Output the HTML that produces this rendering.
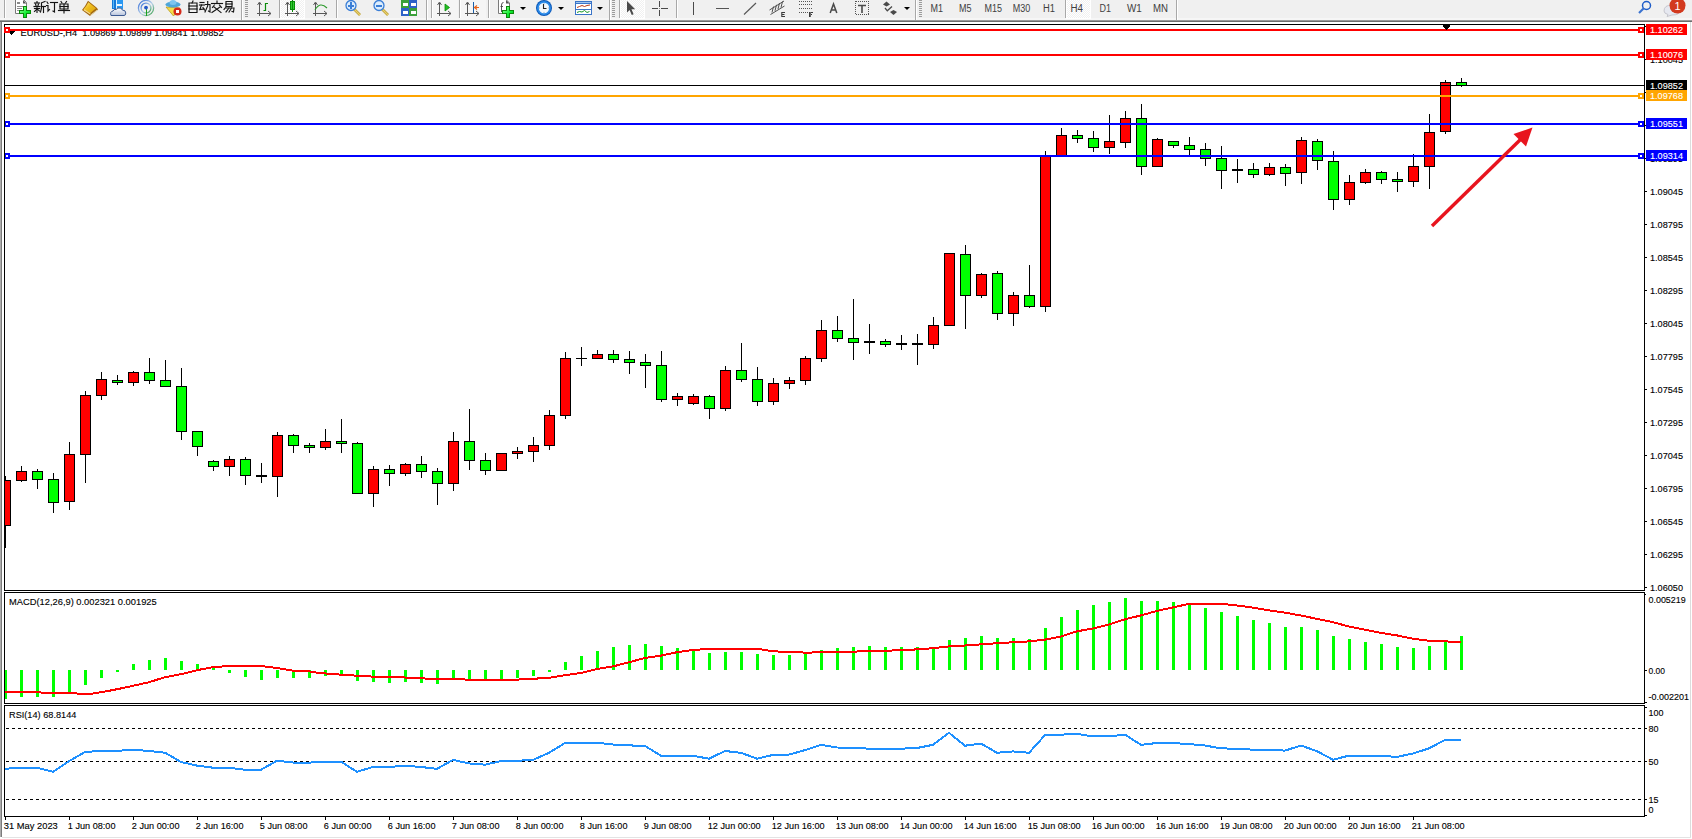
<!DOCTYPE html>
<html><head><meta charset="utf-8"><title>MT4 EURUSD H4</title>
<style>
html,body{margin:0;padding:0;background:#fff;overflow:hidden;}
svg{display:block;font-family:"Liberation Sans", sans-serif;}
</style></head>
<body>
<svg width="1692" height="839" viewBox="0 0 1692 839">
<rect x="0" y="0" width="1692" height="839" fill="#ffffff"/>
<rect x="0" y="0" width="1692" height="20" fill="#f0f0f0"/>
<rect x="0" y="18" width="1692" height="2" fill="#f6f6f6"/>
<rect x="0" y="20" width="1692" height="1" fill="#9a9a9a"/>
<rect x="0" y="21" width="1692" height="1" fill="#6c6c6c"/>
<rect x="4" y="0" width="1" height="18" fill="#a8a8a8"/>
<rect x="5" y="0" width="1" height="18" fill="#ffffff"/>
<rect x="241" y="0" width="1" height="20" fill="#a8a8a8"/>
<rect x="242" y="0" width="1" height="20" fill="#ffffff"/>
<rect x="245" y="0" width="3" height="1" fill="#9c9c9c"/>
<rect x="245" y="2" width="3" height="1" fill="#9c9c9c"/>
<rect x="245" y="4" width="3" height="1" fill="#9c9c9c"/>
<rect x="245" y="6" width="3" height="1" fill="#9c9c9c"/>
<rect x="245" y="8" width="3" height="1" fill="#9c9c9c"/>
<rect x="245" y="10" width="3" height="1" fill="#9c9c9c"/>
<rect x="245" y="12" width="3" height="1" fill="#9c9c9c"/>
<rect x="245" y="14" width="3" height="1" fill="#9c9c9c"/>
<rect x="245" y="16" width="3" height="1" fill="#9c9c9c"/>
<rect x="279" y="0" width="1" height="18" fill="#a8a8a8"/>
<rect x="280" y="0" width="1" height="18" fill="#ffffff"/>
<rect x="336" y="0" width="1" height="18" fill="#a8a8a8"/>
<rect x="337" y="0" width="1" height="18" fill="#ffffff"/>
<rect x="426" y="0" width="1" height="20" fill="#a8a8a8"/>
<rect x="427" y="0" width="1" height="20" fill="#ffffff"/>
<rect x="431" y="0" width="1" height="18" fill="#a8a8a8"/>
<rect x="432" y="0" width="1" height="18" fill="#ffffff"/>
<rect x="459" y="0" width="1" height="18" fill="#a8a8a8"/>
<rect x="460" y="0" width="1" height="18" fill="#ffffff"/>
<rect x="488" y="0" width="1" height="18" fill="#a8a8a8"/>
<rect x="489" y="0" width="1" height="18" fill="#ffffff"/>
<rect x="609" y="0" width="1" height="20" fill="#a8a8a8"/>
<rect x="610" y="0" width="1" height="20" fill="#ffffff"/>
<rect x="612" y="0" width="3" height="1" fill="#9c9c9c"/>
<rect x="612" y="2" width="3" height="1" fill="#9c9c9c"/>
<rect x="612" y="4" width="3" height="1" fill="#9c9c9c"/>
<rect x="612" y="6" width="3" height="1" fill="#9c9c9c"/>
<rect x="612" y="8" width="3" height="1" fill="#9c9c9c"/>
<rect x="612" y="10" width="3" height="1" fill="#9c9c9c"/>
<rect x="612" y="12" width="3" height="1" fill="#9c9c9c"/>
<rect x="612" y="14" width="3" height="1" fill="#9c9c9c"/>
<rect x="612" y="16" width="3" height="1" fill="#9c9c9c"/>
<rect x="619" y="0" width="1" height="18" fill="#a8a8a8"/>
<rect x="620" y="0" width="1" height="18" fill="#ffffff"/>
<rect x="676" y="0" width="1" height="18" fill="#a8a8a8"/>
<rect x="677" y="0" width="1" height="18" fill="#ffffff"/>
<rect x="915" y="0" width="1" height="20" fill="#a8a8a8"/>
<rect x="916" y="0" width="1" height="20" fill="#ffffff"/>
<rect x="919" y="0" width="3" height="1" fill="#9c9c9c"/>
<rect x="919" y="2" width="3" height="1" fill="#9c9c9c"/>
<rect x="919" y="4" width="3" height="1" fill="#9c9c9c"/>
<rect x="919" y="6" width="3" height="1" fill="#9c9c9c"/>
<rect x="919" y="8" width="3" height="1" fill="#9c9c9c"/>
<rect x="919" y="10" width="3" height="1" fill="#9c9c9c"/>
<rect x="919" y="12" width="3" height="1" fill="#9c9c9c"/>
<rect x="919" y="14" width="3" height="1" fill="#9c9c9c"/>
<rect x="919" y="16" width="3" height="1" fill="#9c9c9c"/>
<rect x="1065" y="0" width="1" height="18" fill="#a8a8a8"/>
<rect x="1066" y="0" width="1" height="18" fill="#ffffff"/>
<rect x="1176" y="0" width="1" height="20" fill="#a8a8a8"/>
<rect x="1177" y="0" width="1" height="20" fill="#ffffff"/>
<defs><pattern id="dith" width="2" height="2" patternUnits="userSpaceOnUse"><rect width="2" height="2" fill="#f0f0f0"/><rect width="1" height="1" fill="#ffffff"/><rect x="1" y="1" width="1" height="1" fill="#ffffff"/></pattern></defs>
<rect x="281" y="0" width="23" height="18" fill="url(#dith)"/>
<rect x="280" y="18" width="25" height="1" fill="#ffffff"/>
<rect x="304" y="0" width="1" height="18" fill="#ffffff"/>
<rect x="621" y="0" width="23" height="18" fill="url(#dith)"/>
<rect x="620" y="18" width="25" height="1" fill="#ffffff"/>
<rect x="644" y="0" width="1" height="18" fill="#ffffff"/>
<rect x="1067" y="0" width="23" height="18" fill="url(#dith)"/>
<rect x="1066" y="18" width="25" height="1" fill="#ffffff"/>
<rect x="1090" y="0" width="1" height="18" fill="#ffffff"/>
<rect x="433" y="0" width="25" height="18" fill="#f5f5f5"/>
<rect x="461" y="0" width="25" height="18" fill="#f5f5f5"/>
<g>
<defs><linearGradient id="gplus" x1="0" y1="0" x2="1" y2="1"><stop offset="0" stop-color="#9dffa0"/><stop offset="0.6" stop-color="#10f030"/><stop offset="1" stop-color="#00b020"/></linearGradient><linearGradient id="ring" x1="0" y1="0" x2="1" y2="1"><stop offset="0" stop-color="#2f6ad8"/><stop offset="0.55" stop-color="#b8d0e8"/><stop offset="1" stop-color="#2a9a3a"/></linearGradient><linearGradient id="gold" x1="0" y1="0" x2="1" y2="1"><stop offset="0" stop-color="#fff0a0"/><stop offset="0.4" stop-color="#f0c020"/><stop offset="1" stop-color="#d8a010"/></linearGradient><linearGradient id="cloudg" x1="0" y1="0" x2="0" y2="1"><stop offset="0" stop-color="#ffffff"/><stop offset="1" stop-color="#b8c4dc"/></linearGradient></defs>
<path d="M15.5 -0.5 H23.5 L26.5 2.5 V13.5 H15.5 Z" fill="#ffffff" stroke="#7a7a7a" stroke-width="1"/>
<path d="M23 0 L26.5 3.5 L23 3.5 Z" fill="#555"/>
<rect x="17" y="2" width="3" height="2" fill="#8a8a8a"/>
<rect x="17" y="6" width="6" height="1" fill="#8a8a8a"/>
<rect x="17" y="8" width="5" height="1" fill="#8a8a8a"/>
<rect x="17" y="10" width="3" height="1" fill="#9a9a9a"/>
<path d="M23 6 H27 V10 H31 V14 H27 V18 H23 V14 H19 V10 H23 Z" fill="#0a8a0a"/>
<path d="M24 7 H26 V11 H30 V13 H26 V17 H24 V13 H20 V11 H24 Z" fill="url(#gplus)"/>
<g transform="translate(34,1) scale(1.0)" fill="none" stroke="#141414" stroke-width="1.15" stroke-linecap="square">
<path d="M3 0.5 V1.5"/>
<path d="M0.5 2 H5.5"/>
<path d="M1.5 3 L2 4.5"/>
<path d="M4.5 3 L4 4.5"/>
<path d="M0 5.5 H6"/>
<path d="M0.5 7.5 H5.5"/>
<path d="M3 5.5 V11.5"/>
<path d="M3 8 L0.5 10.5"/>
<path d="M3 8 L5.5 10"/>
<path d="M11 0.5 L7.5 1.8 V7 L6.5 11"/>
<path d="M7.5 5.5 H11.5"/>
<path d="M9.5 5.5 V11.5"/>
</g>
<g transform="translate(46,1) scale(1.0)" fill="none" stroke="#141414" stroke-width="1.15" stroke-linecap="square">
<path d="M1 1 L2 2.5"/>
<path d="M0.5 4.5 H2 V10 L3.5 8.5"/>
<path d="M4.5 1.5 H11.5"/>
<path d="M8.5 1.5 V11 L7 10"/>
</g>
<g transform="translate(58,1) scale(1.0)" fill="none" stroke="#141414" stroke-width="1.15" stroke-linecap="square">
<path d="M3 0.5 L4 2"/>
<path d="M8.5 0.5 L7.5 2"/>
<path d="M2 3 H10 V8 H2 Z"/>
<path d="M2 5.5 H10"/>
<path d="M6 3 V12"/>
<path d="M0.5 9.5 H11.5"/>
</g>
<g transform="translate(187,1) scale(1.0)" fill="none" stroke="#141414" stroke-width="1.15" stroke-linecap="square">
<path d="M6 0 L5 2"/>
<path d="M2 2 H10 V11.5 H2 Z"/>
<path d="M2 5 H10"/>
<path d="M2 8 H10"/>
</g>
<g transform="translate(199,1) scale(1.0)" fill="none" stroke="#141414" stroke-width="1.15" stroke-linecap="square">
<path d="M1 1.5 H5"/>
<path d="M0.5 4 H5.5"/>
<path d="M2.5 4 L0.8 8.5 L5 8"/>
<path d="M4 6.5 L5.5 9"/>
<path d="M6.5 3.5 H11 V11 L9.5 10"/>
<path d="M8.7 0.5 V5 L6 11"/>
</g>
<g transform="translate(211,1) scale(1.0)" fill="none" stroke="#141414" stroke-width="1.15" stroke-linecap="square">
<path d="M6 0 V1.5"/>
<path d="M0.5 2.5 H11.5"/>
<path d="M3.5 4 L1.5 6.5"/>
<path d="M8.5 4 L10.5 6.5"/>
<path d="M3 6 L10 11.5"/>
<path d="M9 6 L1 11.5"/>
</g>
<g transform="translate(223,1) scale(1.0)" fill="none" stroke="#141414" stroke-width="1.15" stroke-linecap="square">
<path d="M3 0.5 H9 V5.5 H3 Z"/>
<path d="M3 3 H9"/>
<path d="M3 6 L1 8.5"/>
<path d="M3 7 H11 L10.5 11 L9 10.5"/>
<path d="M6 7 L3 11"/>
<path d="M8.5 7 L6 11"/>
</g>
<path d="M88 0.8 L96.5 7.6 L98.2 9.4 L90 16 L82 9.9 Q85.5 6 88 0.8 Z" fill="#a46810"/>
<path d="M88.4 2.2 L96 8.2 L89.9 13.6 L83.4 9.6 Q86.4 6.3 88.4 2.2 Z" fill="url(#gold)"/>
<path d="M83.6 10.2 L89.9 14.3 L90.6 13.4 L84.4 9.3 Z" fill="#f6dc90"/>
<path d="M90.2 15 L97.3 9.4 L97.8 10.2 L90.5 15.8 Z" fill="#e6dcb0"/>
<rect x="112" y="0" width="4" height="9" fill="#1578d8"/>
<rect x="116" y="0" width="7" height="9" fill="#2a98f2"/>
<rect x="116" y="0" width="1" height="9" fill="#d8f0ff"/>
<rect x="117" y="4" width="5" height="2" fill="#eaf6ff"/>
<rect x="113" y="0" width="1" height="8" fill="#5ab8f8"/>
<path d="M111 15.5 Q109.6 11.6 113 11 Q113.6 9 116.2 9.4 Q117.6 7.4 120.2 8.1 Q122.2 8.6 122.4 10.1 Q125.8 10.1 125.8 13 Q125.8 15.5 124 15.5 Z" fill="url(#cloudg)" stroke="#3c5a92" stroke-width="1"/>
<circle cx="146" cy="8" r="7.6" fill="none" stroke="url(#ring)" stroke-width="1.3"/>
<circle cx="146" cy="8" r="4.9" fill="none" stroke="url(#ring)" stroke-width="1.3"/>
<rect x="146" y="8" width="1" height="8" fill="#1aa01a"/>
<circle cx="146" cy="7.6" r="1.9" fill="#2458c8"/>
<path d="M166 7 L173.5 16 L180 8 Z" fill="#f5dc4a" stroke="#b89a20" stroke-width="0.8"/>
<ellipse cx="173" cy="4.5" rx="7.5" ry="3" fill="#4fa6d8"/>
<ellipse cx="173" cy="2.5" rx="3.5" ry="2.5" fill="#7cc4ee"/>
<circle cx="177.5" cy="11.5" r="4" fill="#d42a1a"/>
<rect x="176" y="10" width="3" height="3" fill="#ffffff"/>
<rect x="259" y="3" width="1" height="13" fill="#585858"/>
<rect x="257" y="13" width="14" height="1" fill="#585858"/>
<path d="M257.5 5 L259.5 2 L261.5 5" fill="none" stroke="#585858" stroke-width="1"/>
<path d="M268 11 L271 13.5 L268 16" fill="none" stroke="#585858" stroke-width="1"/>
<path d="M263.5 10.5 H265.5 V3.5 H268" fill="none" stroke="#0a8a0a" stroke-width="1.2"/>
<rect x="287" y="3" width="1" height="13" fill="#585858"/>
<rect x="285" y="13" width="14" height="1" fill="#585858"/>
<path d="M285.5 5 L287.5 2 L289.5 5" fill="none" stroke="#585858" stroke-width="1"/>
<path d="M296 11 L299 13.5 L296 16" fill="none" stroke="#585858" stroke-width="1"/>
<rect x="290" y="1" width="5" height="9" fill="#0a8a0a"/>
<rect x="291" y="2" width="3" height="7" fill="#30d030"/>
<rect x="292" y="0" width="1" height="12" fill="#0a8a0a"/>
<rect x="315" y="3" width="1" height="13" fill="#585858"/>
<rect x="313" y="13" width="14" height="1" fill="#585858"/>
<path d="M313.5 5 L315.5 2 L317.5 5" fill="none" stroke="#585858" stroke-width="1"/>
<path d="M324 11 L327 13.5 L324 16" fill="none" stroke="#585858" stroke-width="1"/>
<path d="M315 10 Q320 1 327 8" fill="none" stroke="#2c9a2c" stroke-width="1.1"/>
<line x1="354" y1="9" x2="360" y2="15" stroke="#b89b2a" stroke-width="2.6"/>
<line x1="354" y1="9" x2="360" y2="15" stroke="#e8d070" stroke-width="1.2"/>
<circle cx="351" cy="5.5" r="5" fill="#dcecfc" stroke="#3a7ed6" stroke-width="1.3"/>
<rect x="348" y="5" width="6" height="2" fill="#3a7ed6"/>
<rect x="350" y="2" width="2" height="7" fill="#3a7ed6"/>
<line x1="382" y1="9" x2="388" y2="15" stroke="#b89b2a" stroke-width="2.6"/>
<line x1="382" y1="9" x2="388" y2="15" stroke="#e8d070" stroke-width="1.2"/>
<circle cx="379" cy="5.5" r="5" fill="#dcecfc" stroke="#3a7ed6" stroke-width="1.3"/>
<rect x="376" y="5" width="6" height="2" fill="#3a7ed6"/>
<rect x="401" y="0" width="8" height="8" fill="#3aa03a"/>
<rect x="409" y="0" width="8" height="8" fill="#2d62c8"/>
<rect x="401" y="8" width="8" height="8" fill="#2d62c8"/>
<rect x="409" y="8" width="8" height="8" fill="#3aa03a"/>
<rect x="403" y="3" width="5" height="3" fill="#ffffff"/>
<rect x="411" y="3" width="5" height="3" fill="#ffffff"/>
<rect x="403" y="11" width="5" height="3" fill="#ffffff"/>
<rect x="411" y="11" width="5" height="3" fill="#ffffff"/>
<rect x="439" y="3" width="1" height="13" fill="#585858"/>
<rect x="437" y="13" width="14" height="1" fill="#585858"/>
<path d="M437.5 5 L439.5 2 L441.5 5" fill="none" stroke="#585858" stroke-width="1"/>
<path d="M448 11 L451 13.5 L448 16" fill="none" stroke="#585858" stroke-width="1"/>
<path d="M445 4 L449.5 7.5 L445 11 Z" fill="#22c022" stroke="#0a8a0a" stroke-width="0.8"/>
<rect x="467" y="3" width="1" height="13" fill="#585858"/>
<rect x="465" y="13" width="14" height="1" fill="#585858"/>
<path d="M465.5 5 L467.5 2 L469.5 5" fill="none" stroke="#585858" stroke-width="1"/>
<path d="M476 11 L479 13.5 L476 16" fill="none" stroke="#585858" stroke-width="1"/>
<rect x="473" y="2" width="1" height="11" fill="#1a5ea8"/>
<path d="M479 7.5 H475 M477 5.5 L474.5 7.5 L477 9.5" fill="none" stroke="#e8641a" stroke-width="1.2"/>
<path d="M498.5 -0.5 H506 L509.5 3 V13.5 H498.5 Z" fill="#ffffff" stroke="#7a7a7a"/>
<path d="M506 0 L509.5 3.5 L506 3.5 Z" fill="#555"/>
<path d="M503.5 2.5 Q501.5 2.5 501.5 5 V12 M500.5 6.5 H503" fill="none" stroke="#444" stroke-width="0.9"/>
<path d="M506 6 H510 V10 H514 V14 H510 V18 H506 V14 H502 V10 H506 Z" fill="#0a8a0a"/>
<path d="M507 7 H509 V11 H513 V13 H509 V17 H507 V13 H503 V11 H507 Z" fill="url(#gplus)"/>
<path d="M520 7 H526 L523 10 Z" fill="#000"/>
<circle cx="544" cy="8" r="8" fill="#0c58b8"/>
<circle cx="544" cy="8" r="7" fill="#2a8ae8"/>
<circle cx="544" cy="8" r="5.2" fill="#f4f8fc"/>
<path d="M543.5 4 V8.5 H546.5" fill="none" stroke="#222" stroke-width="1.1"/>
<rect x="543.5" y="3.1" width="1" height="1" fill="#8aa8c8"/>
<rect x="547.9" y="7.5" width="1" height="1" fill="#8aa8c8"/>
<rect x="543.5" y="11.9" width="1" height="1" fill="#8aa8c8"/>
<rect x="539.1" y="7.5" width="1" height="1" fill="#8aa8c8"/>
<path d="M558 7 H564 L561 10 Z" fill="#000"/>
<rect x="575" y="1" width="17" height="14" fill="#3a74c8"/>
<rect x="576" y="2" width="15" height="1" fill="#9cc4f0"/>
<rect x="576" y="4" width="15" height="10" fill="#ffffff"/>
<rect x="576" y="9" width="15" height="1" fill="#3a74c8"/>
<path d="M577 7.5 L579.5 6.5 L582 5.5 L584.5 6.5 L587 5.5 L590 5" fill="none" stroke="#b83a18" stroke-width="1"/>
<path d="M577 12.5 L579.5 11.5 L582 12 L584.5 10.5 L587 12.5 L589.5 11.5" fill="none" stroke="#1a9a2a" stroke-width="1"/>
<path d="M597 7 H603 L600 10 Z" fill="#000"/>
<path d="M627 1 V12.5 L629.6 10 L631.8 15 L633.6 14.2 L631.5 9.3 L635.2 9.3 Z" fill="#4a4a4a"/>
<rect x="652" y="8" width="16" height="1" fill="#4a4a4a"/>
<rect x="659" y="1" width="1" height="15" fill="#4a4a4a"/>
<rect x="658" y="8" width="3" height="1" fill="#f0f0f0"/>
<rect x="659" y="7" width="1" height="3" fill="#f0f0f0"/>
<rect x="659" y="8" width="1" height="1" fill="#888"/>
<rect x="693" y="2" width="1" height="13" fill="#4a4a4a"/>
<rect x="716" y="8" width="13" height="1" fill="#555"/>
<line x1="744" y1="14.5" x2="756" y2="3" stroke="#555" stroke-width="1.1"/>
<path d="M769.5 10 L784 1 M770.5 14.5 L784.5 6 M772 12.5 L773.5 6.5 M775 10.8 L776.5 4.8 M778 9 L779.5 3 M781 7.5 L782.5 1.5" fill="none" stroke="#505050" stroke-width="1"/>
<path d="M785 12.5 H781.8 V16.5 H785 M781.8 14.5 H784.5" fill="none" stroke="#3a3a3a" stroke-width="1.1"/>
<rect x="799" y="1" width="1" height="1" fill="#555"/>
<rect x="801" y="1" width="1" height="1" fill="#555"/>
<rect x="803" y="1" width="1" height="1" fill="#555"/>
<rect x="805" y="1" width="1" height="1" fill="#555"/>
<rect x="807" y="1" width="1" height="1" fill="#555"/>
<rect x="809" y="1" width="1" height="1" fill="#555"/>
<rect x="811" y="1" width="1" height="1" fill="#555"/>
<rect x="799" y="4" width="1" height="1" fill="#555"/>
<rect x="801" y="4" width="1" height="1" fill="#555"/>
<rect x="803" y="4" width="1" height="1" fill="#555"/>
<rect x="805" y="4" width="1" height="1" fill="#555"/>
<rect x="807" y="4" width="1" height="1" fill="#555"/>
<rect x="809" y="4" width="1" height="1" fill="#555"/>
<rect x="811" y="4" width="1" height="1" fill="#555"/>
<rect x="799" y="8" width="1" height="1" fill="#555"/>
<rect x="801" y="8" width="1" height="1" fill="#555"/>
<rect x="803" y="8" width="1" height="1" fill="#555"/>
<rect x="805" y="8" width="1" height="1" fill="#555"/>
<rect x="807" y="8" width="1" height="1" fill="#555"/>
<rect x="809" y="8" width="1" height="1" fill="#555"/>
<rect x="811" y="8" width="1" height="1" fill="#555"/>
<rect x="799" y="12" width="1" height="1" fill="#555"/>
<rect x="801" y="12" width="1" height="1" fill="#555"/>
<rect x="803" y="12" width="1" height="1" fill="#555"/>
<rect x="805" y="12" width="1" height="1" fill="#555"/>
<rect x="807" y="12" width="1" height="1" fill="#555"/>
<rect x="809" y="12" width="4" height="1" fill="#3a3a3a"/>
<rect x="809" y="12" width="1" height="5" fill="#3a3a3a"/>
<rect x="809" y="14" width="3" height="1" fill="#3a3a3a"/>
<rect x="810" y="12" width="1" height="5" fill="#6a6a6a"/>
<path d="M830.2 13 L833.5 4 L836.8 13 M831.4 10 H835.6" fill="none" stroke="#4a4a4a" stroke-width="1.5"/>
<rect x="856" y="1" width="1" height="1" fill="#555"/>
<rect x="856" y="14" width="1" height="1" fill="#555"/>
<rect x="858" y="1" width="1" height="1" fill="#555"/>
<rect x="858" y="14" width="1" height="1" fill="#555"/>
<rect x="860" y="1" width="1" height="1" fill="#555"/>
<rect x="860" y="14" width="1" height="1" fill="#555"/>
<rect x="862" y="1" width="1" height="1" fill="#555"/>
<rect x="862" y="14" width="1" height="1" fill="#555"/>
<rect x="864" y="1" width="1" height="1" fill="#555"/>
<rect x="864" y="14" width="1" height="1" fill="#555"/>
<rect x="866" y="1" width="1" height="1" fill="#555"/>
<rect x="866" y="14" width="1" height="1" fill="#555"/>
<rect x="868" y="1" width="1" height="1" fill="#555"/>
<rect x="868" y="14" width="1" height="1" fill="#555"/>
<rect x="855" y="1" width="1" height="1" fill="#555"/>
<rect x="868" y="1" width="1" height="1" fill="#555"/>
<rect x="855" y="3" width="1" height="1" fill="#555"/>
<rect x="868" y="3" width="1" height="1" fill="#555"/>
<rect x="855" y="5" width="1" height="1" fill="#555"/>
<rect x="868" y="5" width="1" height="1" fill="#555"/>
<rect x="855" y="7" width="1" height="1" fill="#555"/>
<rect x="868" y="7" width="1" height="1" fill="#555"/>
<rect x="855" y="9" width="1" height="1" fill="#555"/>
<rect x="868" y="9" width="1" height="1" fill="#555"/>
<rect x="855" y="11" width="1" height="1" fill="#555"/>
<rect x="868" y="11" width="1" height="1" fill="#555"/>
<rect x="855" y="13" width="1" height="1" fill="#555"/>
<rect x="868" y="13" width="1" height="1" fill="#555"/>
<path d="M858 5.5 H866 M862 5.5 V13" fill="none" stroke="#4a4a4a" stroke-width="1.6"/>
<path d="M883 4.5 L886.5 1.5 L890 4.5 L886.5 6.5 Z" fill="#4a4a4a"/>
<path d="M885 8 L887.3 10.8 L892 6.5" fill="none" stroke="#4a4a4a" stroke-width="1.3"/>
<path d="M890 12 L893.5 10 L897 12 L893.5 15 Z" fill="#4a4a4a"/>
<path d="M904 7 H910 L907 10 Z" fill="#000"/>
</g>
<text x="930.5" y="12" font-size="10" fill="#404040" textLength="12.5" lengthAdjust="spacingAndGlyphs">M1</text>
<text x="959" y="12" font-size="10" fill="#404040" textLength="12.5" lengthAdjust="spacingAndGlyphs">M5</text>
<text x="984.5" y="12" font-size="10" fill="#404040" textLength="17.5" lengthAdjust="spacingAndGlyphs">M15</text>
<text x="1012.7" y="12" font-size="10" fill="#404040" textLength="17.5" lengthAdjust="spacingAndGlyphs">M30</text>
<text x="1043" y="12" font-size="10" fill="#404040" textLength="12" lengthAdjust="spacingAndGlyphs">H1</text>
<text x="1070.5" y="12" font-size="10" fill="#404040" textLength="12.5" lengthAdjust="spacingAndGlyphs">H4</text>
<text x="1099.5" y="12" font-size="10" fill="#404040" textLength="11.5" lengthAdjust="spacingAndGlyphs">D1</text>
<text x="1127" y="12" font-size="10" fill="#404040" textLength="14.8" lengthAdjust="spacingAndGlyphs">W1</text>
<text x="1153" y="12" font-size="10" fill="#404040" textLength="15" lengthAdjust="spacingAndGlyphs">MN</text>
<circle cx="1646.5" cy="5.5" r="4" fill="none" stroke="#1e5cc8" stroke-width="1.5"/>
<line x1="1643.5" y1="8.5" x2="1639" y2="13" stroke="#3a72d0" stroke-width="2.2"/>
<path d="M1664 11 Q1664 5 1672 5 Q1680 5 1680 10.5 Q1680 15 1672 15 L1667 16.5 L1668 14.5 Q1664 13.5 1664 11 Z" fill="#e6e8f0" stroke="#bcbcc4" stroke-width="0.8"/>
<circle cx="1677.5" cy="5.5" r="8" fill="#d2391e"/>
<text x="1674.6" y="10" font-size="11" fill="#ffffff">1</text>
<rect x="0" y="22" width="1" height="815" fill="#acacac"/>
<rect x="1" y="22" width="1" height="815" fill="#7c7c7c"/>
<rect x="1690" y="22" width="1" height="816" fill="#dcdcdc"/>
<rect x="2" y="837" width="1689" height="1" fill="#e3e3e3"/>
<g shape-rendering="crispEdges">
<line x1="6" y1="728.5" x2="1643" y2="728.5" stroke="#000" stroke-width="1" stroke-dasharray="3 3"/>
<line x1="6" y1="761.5" x2="1643" y2="761.5" stroke="#000" stroke-width="1" stroke-dasharray="3 3"/>
<line x1="6" y1="799.5" x2="1643" y2="799.5" stroke="#000" stroke-width="1" stroke-dasharray="3 3"/>
<rect x="4" y="670" width="3" height="29" fill="#00ff00"/>
<rect x="20" y="670" width="3" height="27" fill="#00ff00"/>
<rect x="36" y="670" width="3" height="27" fill="#00ff00"/>
<rect x="52" y="670" width="3" height="27" fill="#00ff00"/>
<rect x="68" y="670" width="3" height="24" fill="#00ff00"/>
<rect x="84" y="670" width="3" height="15" fill="#00ff00"/>
<rect x="100" y="670" width="3" height="8" fill="#00ff00"/>
<rect x="116" y="670" width="3" height="2" fill="#00ff00"/>
<rect x="132" y="664" width="3" height="6" fill="#00ff00"/>
<rect x="148" y="660" width="3" height="10" fill="#00ff00"/>
<rect x="164" y="658" width="3" height="12" fill="#00ff00"/>
<rect x="180" y="661" width="3" height="9" fill="#00ff00"/>
<rect x="196" y="664" width="3" height="6" fill="#00ff00"/>
<rect x="212" y="667" width="3" height="3" fill="#00ff00"/>
<rect x="228" y="670" width="3" height="3" fill="#00ff00"/>
<rect x="244" y="670" width="3" height="7" fill="#00ff00"/>
<rect x="260" y="670" width="3" height="10" fill="#00ff00"/>
<rect x="276" y="670" width="3" height="8" fill="#00ff00"/>
<rect x="292" y="670" width="3" height="8" fill="#00ff00"/>
<rect x="308" y="670" width="3" height="8" fill="#00ff00"/>
<rect x="324" y="670" width="3" height="6" fill="#00ff00"/>
<rect x="340" y="670" width="3" height="6" fill="#00ff00"/>
<rect x="356" y="670" width="3" height="11" fill="#00ff00"/>
<rect x="372" y="670" width="3" height="12" fill="#00ff00"/>
<rect x="388" y="670" width="3" height="13" fill="#00ff00"/>
<rect x="404" y="670" width="3" height="12" fill="#00ff00"/>
<rect x="420" y="670" width="3" height="13" fill="#00ff00"/>
<rect x="436" y="670" width="3" height="14" fill="#00ff00"/>
<rect x="452" y="670" width="3" height="9" fill="#00ff00"/>
<rect x="468" y="670" width="3" height="10" fill="#00ff00"/>
<rect x="484" y="670" width="3" height="10" fill="#00ff00"/>
<rect x="500" y="670" width="3" height="9" fill="#00ff00"/>
<rect x="516" y="670" width="3" height="8" fill="#00ff00"/>
<rect x="532" y="670" width="3" height="6" fill="#00ff00"/>
<rect x="548" y="670" width="3" height="2" fill="#00ff00"/>
<rect x="564" y="662" width="3" height="8" fill="#00ff00"/>
<rect x="580" y="656" width="3" height="14" fill="#00ff00"/>
<rect x="596" y="651" width="3" height="19" fill="#00ff00"/>
<rect x="612" y="647" width="3" height="23" fill="#00ff00"/>
<rect x="628" y="645" width="3" height="25" fill="#00ff00"/>
<rect x="644" y="644" width="3" height="26" fill="#00ff00"/>
<rect x="660" y="646" width="3" height="24" fill="#00ff00"/>
<rect x="676" y="648" width="3" height="22" fill="#00ff00"/>
<rect x="692" y="650" width="3" height="20" fill="#00ff00"/>
<rect x="708" y="653" width="3" height="17" fill="#00ff00"/>
<rect x="724" y="652" width="3" height="18" fill="#00ff00"/>
<rect x="740" y="652" width="3" height="18" fill="#00ff00"/>
<rect x="756" y="654" width="3" height="16" fill="#00ff00"/>
<rect x="772" y="655" width="3" height="15" fill="#00ff00"/>
<rect x="788" y="655" width="3" height="15" fill="#00ff00"/>
<rect x="804" y="653" width="3" height="17" fill="#00ff00"/>
<rect x="820" y="650" width="3" height="20" fill="#00ff00"/>
<rect x="836" y="648" width="3" height="22" fill="#00ff00"/>
<rect x="852" y="647" width="3" height="23" fill="#00ff00"/>
<rect x="868" y="646" width="3" height="24" fill="#00ff00"/>
<rect x="884" y="647" width="3" height="23" fill="#00ff00"/>
<rect x="900" y="647" width="3" height="23" fill="#00ff00"/>
<rect x="916" y="647" width="3" height="23" fill="#00ff00"/>
<rect x="932" y="648" width="3" height="22" fill="#00ff00"/>
<rect x="948" y="640" width="3" height="30" fill="#00ff00"/>
<rect x="964" y="638" width="3" height="32" fill="#00ff00"/>
<rect x="980" y="636" width="3" height="34" fill="#00ff00"/>
<rect x="996" y="638" width="3" height="32" fill="#00ff00"/>
<rect x="1012" y="638" width="3" height="32" fill="#00ff00"/>
<rect x="1028" y="639" width="3" height="31" fill="#00ff00"/>
<rect x="1044" y="628" width="3" height="42" fill="#00ff00"/>
<rect x="1060" y="617" width="3" height="53" fill="#00ff00"/>
<rect x="1076" y="610" width="3" height="60" fill="#00ff00"/>
<rect x="1092" y="605" width="3" height="65" fill="#00ff00"/>
<rect x="1108" y="602" width="3" height="68" fill="#00ff00"/>
<rect x="1124" y="598" width="3" height="72" fill="#00ff00"/>
<rect x="1140" y="601" width="3" height="69" fill="#00ff00"/>
<rect x="1156" y="601" width="3" height="69" fill="#00ff00"/>
<rect x="1172" y="602" width="3" height="68" fill="#00ff00"/>
<rect x="1188" y="605" width="3" height="65" fill="#00ff00"/>
<rect x="1204" y="608" width="3" height="62" fill="#00ff00"/>
<rect x="1220" y="612" width="3" height="58" fill="#00ff00"/>
<rect x="1236" y="616" width="3" height="54" fill="#00ff00"/>
<rect x="1252" y="620" width="3" height="50" fill="#00ff00"/>
<rect x="1268" y="623" width="3" height="47" fill="#00ff00"/>
<rect x="1284" y="627" width="3" height="43" fill="#00ff00"/>
<rect x="1300" y="627" width="3" height="43" fill="#00ff00"/>
<rect x="1316" y="630" width="3" height="40" fill="#00ff00"/>
<rect x="1332" y="636" width="3" height="34" fill="#00ff00"/>
<rect x="1348" y="639" width="3" height="31" fill="#00ff00"/>
<rect x="1364" y="642" width="3" height="28" fill="#00ff00"/>
<rect x="1380" y="644" width="3" height="26" fill="#00ff00"/>
<rect x="1396" y="647" width="3" height="23" fill="#00ff00"/>
<rect x="1412" y="648" width="3" height="22" fill="#00ff00"/>
<rect x="1428" y="646" width="3" height="24" fill="#00ff00"/>
<rect x="1444" y="640" width="3" height="30" fill="#00ff00"/>
<rect x="1460" y="636" width="3" height="34" fill="#00ff00"/>
</g>
<polyline points="5,691.9 37,692.3 53,693.2 92,693.7 106,691.4 124,687.8 149,682.2 165,677.2 181,674.2 199,669.8 213,667.1 230,666 261,666 277,668 293,670.6 309,671.3 317,672.6 325,673.4 341,674.7 357,675.7 373,676.6 405,677.5 421,678.4 469,679.6 517,679.6 549,677.9 565,675.2 581,673 597,669 613,666.4 629,662.3 645,657.9 661,655.6 677,652.2 693,649.9 709,649 757,648.7 773,651.3 805,652.6 837,652.2 869,651.1 885,650.8 917,649.4 933,648.2 949,646.4 965,645.5 981,644.4 997,643.2 1013,642.3 1029,641.4 1045,639.6 1061,636.6 1077,631.3 1093,628.5 1109,624.6 1125,619.3 1141,615.4 1157,610.9 1173,607.4 1189,603.8 1221,603.8 1237,605.5 1253,607.6 1269,610.4 1285,612.7 1301,615.5 1317,618.9 1333,622.2 1349,626.5 1365,629.7 1381,632.9 1397,635.4 1413,638.8 1429,640.7 1445,641.4 1461,642" fill="none" stroke="#ff0000" stroke-width="2" stroke-linejoin="round" shape-rendering="crispEdges"/>
<polyline points="5,768.8 21,767.7 37,767.7 53,771.8 69,761.2 85,752 101,750.9 117,750.9 133,749.6 149,751 165,752.7 181,762 197,765.6 213,767.7 229,767.7 245,769.7 261,769.7 277,760.8 293,762.5 309,762.6 325,762 341,761.7 357,771.8 373,767 389,767 405,765.7 421,767 437,768.8 453,759.9 469,763.4 485,764.7 501,761.1 517,760.8 533,759.9 549,752.8 565,743 581,742.7 597,742.7 613,744.5 629,745.4 645,745.9 661,755.8 677,755.8 693,755.8 709,758.7 725,751 741,752.8 757,758.7 773,754.9 789,754.6 805,750.1 821,744.8 837,747.5 853,747.8 869,748.7 885,748.7 901,748.7 917,748 933,744.8 949,732.8 965,745.7 981,743.6 997,752.8 1013,751.4 1029,752.8 1045,735.1 1061,734.7 1077,733.8 1093,736.5 1109,736.3 1125,734.7 1141,744.8 1157,743 1173,743.1 1189,744 1205,745.5 1221,748.4 1237,748.7 1253,749.7 1269,749.7 1285,750.6 1301,745.5 1317,751.2 1333,759.7 1349,755.6 1365,755.6 1381,755.9 1397,756.9 1413,753.5 1429,748.4 1445,739.9 1461,739.9" fill="none" stroke="#1e90ff" stroke-width="2" stroke-linejoin="round" shape-rendering="crispEdges"/>
<g shape-rendering="crispEdges">
<rect x="5" y="476" width="1" height="72" fill="#000"/>
<rect x="4" y="480" width="7" height="46" fill="#000"/>
<rect x="5" y="481" width="5" height="44" fill="#ff0000"/>
<rect x="21" y="466" width="1" height="16" fill="#000"/>
<rect x="16" y="471" width="11" height="10" fill="#000"/>
<rect x="17" y="472" width="9" height="8" fill="#ff0000"/>
<rect x="37" y="469" width="1" height="20" fill="#000"/>
<rect x="32" y="471" width="11" height="9" fill="#000"/>
<rect x="33" y="472" width="9" height="7" fill="#00ff00"/>
<rect x="53" y="473" width="1" height="40" fill="#000"/>
<rect x="48" y="479" width="11" height="24" fill="#000"/>
<rect x="49" y="480" width="9" height="22" fill="#00ff00"/>
<rect x="69" y="442" width="1" height="68" fill="#000"/>
<rect x="64" y="454" width="11" height="48" fill="#000"/>
<rect x="65" y="455" width="9" height="46" fill="#ff0000"/>
<rect x="85" y="391" width="1" height="92" fill="#000"/>
<rect x="80" y="395" width="11" height="60" fill="#000"/>
<rect x="81" y="396" width="9" height="58" fill="#ff0000"/>
<rect x="101" y="372" width="1" height="28" fill="#000"/>
<rect x="96" y="379" width="11" height="17" fill="#000"/>
<rect x="97" y="380" width="9" height="15" fill="#ff0000"/>
<rect x="117" y="375" width="1" height="10" fill="#000"/>
<rect x="112" y="380" width="11" height="3" fill="#000"/>
<rect x="113" y="381" width="9" height="1" fill="#00ff00"/>
<rect x="133" y="371" width="1" height="15" fill="#000"/>
<rect x="128" y="372" width="11" height="11" fill="#000"/>
<rect x="129" y="373" width="9" height="9" fill="#ff0000"/>
<rect x="149" y="358" width="1" height="26" fill="#000"/>
<rect x="144" y="372" width="11" height="9" fill="#000"/>
<rect x="145" y="373" width="9" height="7" fill="#00ff00"/>
<rect x="165" y="360" width="1" height="27" fill="#000"/>
<rect x="160" y="380" width="11" height="7" fill="#000"/>
<rect x="161" y="381" width="9" height="5" fill="#00ff00"/>
<rect x="181" y="368" width="1" height="72" fill="#000"/>
<rect x="176" y="386" width="11" height="46" fill="#000"/>
<rect x="177" y="387" width="9" height="44" fill="#00ff00"/>
<rect x="197" y="431" width="1" height="25" fill="#000"/>
<rect x="192" y="431" width="11" height="16" fill="#000"/>
<rect x="193" y="432" width="9" height="14" fill="#00ff00"/>
<rect x="213" y="460" width="1" height="11" fill="#000"/>
<rect x="208" y="461" width="11" height="6" fill="#000"/>
<rect x="209" y="462" width="9" height="4" fill="#00ff00"/>
<rect x="229" y="456" width="1" height="20" fill="#000"/>
<rect x="224" y="459" width="11" height="8" fill="#000"/>
<rect x="225" y="460" width="9" height="6" fill="#ff0000"/>
<rect x="245" y="457" width="1" height="28" fill="#000"/>
<rect x="240" y="459" width="11" height="17" fill="#000"/>
<rect x="241" y="460" width="9" height="15" fill="#00ff00"/>
<rect x="261" y="463" width="1" height="20" fill="#000"/>
<rect x="256" y="475" width="11" height="2" fill="#000"/>
<rect x="277" y="432" width="1" height="65" fill="#000"/>
<rect x="272" y="435" width="11" height="42" fill="#000"/>
<rect x="273" y="436" width="9" height="40" fill="#ff0000"/>
<rect x="293" y="434" width="1" height="19" fill="#000"/>
<rect x="288" y="435" width="11" height="11" fill="#000"/>
<rect x="289" y="436" width="9" height="9" fill="#00ff00"/>
<rect x="309" y="443" width="1" height="10" fill="#000"/>
<rect x="304" y="445" width="11" height="3" fill="#000"/>
<rect x="305" y="446" width="9" height="1" fill="#00ff00"/>
<rect x="325" y="429" width="1" height="21" fill="#000"/>
<rect x="320" y="441" width="11" height="7" fill="#000"/>
<rect x="321" y="442" width="9" height="5" fill="#ff0000"/>
<rect x="341" y="419" width="1" height="34" fill="#000"/>
<rect x="336" y="441" width="11" height="3" fill="#000"/>
<rect x="337" y="442" width="9" height="1" fill="#00ff00"/>
<rect x="357" y="442" width="1" height="52" fill="#000"/>
<rect x="352" y="443" width="11" height="51" fill="#000"/>
<rect x="353" y="444" width="9" height="49" fill="#00ff00"/>
<rect x="373" y="466" width="1" height="41" fill="#000"/>
<rect x="368" y="469" width="11" height="25" fill="#000"/>
<rect x="369" y="470" width="9" height="23" fill="#ff0000"/>
<rect x="389" y="465" width="1" height="21" fill="#000"/>
<rect x="384" y="469" width="11" height="5" fill="#000"/>
<rect x="385" y="470" width="9" height="3" fill="#00ff00"/>
<rect x="405" y="463" width="1" height="13" fill="#000"/>
<rect x="400" y="464" width="11" height="10" fill="#000"/>
<rect x="401" y="465" width="9" height="8" fill="#ff0000"/>
<rect x="421" y="456" width="1" height="22" fill="#000"/>
<rect x="416" y="464" width="11" height="8" fill="#000"/>
<rect x="417" y="465" width="9" height="6" fill="#00ff00"/>
<rect x="437" y="468" width="1" height="37" fill="#000"/>
<rect x="432" y="471" width="11" height="13" fill="#000"/>
<rect x="433" y="472" width="9" height="11" fill="#00ff00"/>
<rect x="453" y="432" width="1" height="59" fill="#000"/>
<rect x="448" y="441" width="11" height="43" fill="#000"/>
<rect x="449" y="442" width="9" height="41" fill="#ff0000"/>
<rect x="469" y="409" width="1" height="61" fill="#000"/>
<rect x="464" y="441" width="11" height="20" fill="#000"/>
<rect x="465" y="442" width="9" height="18" fill="#00ff00"/>
<rect x="485" y="453" width="1" height="22" fill="#000"/>
<rect x="480" y="460" width="11" height="11" fill="#000"/>
<rect x="481" y="461" width="9" height="9" fill="#00ff00"/>
<rect x="501" y="453" width="1" height="18" fill="#000"/>
<rect x="496" y="453" width="11" height="18" fill="#000"/>
<rect x="497" y="454" width="9" height="16" fill="#ff0000"/>
<rect x="517" y="447" width="1" height="12" fill="#000"/>
<rect x="512" y="451" width="11" height="3" fill="#000"/>
<rect x="513" y="452" width="9" height="1" fill="#ff0000"/>
<rect x="533" y="437" width="1" height="25" fill="#000"/>
<rect x="528" y="445" width="11" height="7" fill="#000"/>
<rect x="529" y="446" width="9" height="5" fill="#ff0000"/>
<rect x="549" y="410" width="1" height="40" fill="#000"/>
<rect x="544" y="415" width="11" height="31" fill="#000"/>
<rect x="545" y="416" width="9" height="29" fill="#ff0000"/>
<rect x="565" y="352" width="1" height="67" fill="#000"/>
<rect x="560" y="358" width="11" height="58" fill="#000"/>
<rect x="561" y="359" width="9" height="56" fill="#ff0000"/>
<rect x="581" y="347" width="1" height="19" fill="#000"/>
<rect x="576" y="358" width="11" height="1" fill="#000"/>
<rect x="597" y="350" width="1" height="9" fill="#000"/>
<rect x="592" y="354" width="11" height="5" fill="#000"/>
<rect x="593" y="355" width="9" height="3" fill="#ff0000"/>
<rect x="613" y="350" width="1" height="13" fill="#000"/>
<rect x="608" y="354" width="11" height="6" fill="#000"/>
<rect x="609" y="355" width="9" height="4" fill="#00ff00"/>
<rect x="629" y="351" width="1" height="23" fill="#000"/>
<rect x="624" y="359" width="11" height="4" fill="#000"/>
<rect x="625" y="360" width="9" height="2" fill="#00ff00"/>
<rect x="645" y="354" width="1" height="34" fill="#000"/>
<rect x="640" y="362" width="11" height="4" fill="#000"/>
<rect x="641" y="363" width="9" height="2" fill="#00ff00"/>
<rect x="661" y="351" width="1" height="51" fill="#000"/>
<rect x="656" y="365" width="11" height="35" fill="#000"/>
<rect x="657" y="366" width="9" height="33" fill="#00ff00"/>
<rect x="677" y="393" width="1" height="13" fill="#000"/>
<rect x="672" y="396" width="11" height="4" fill="#000"/>
<rect x="673" y="397" width="9" height="2" fill="#ff0000"/>
<rect x="693" y="394" width="1" height="11" fill="#000"/>
<rect x="688" y="396" width="11" height="8" fill="#000"/>
<rect x="689" y="397" width="9" height="6" fill="#ff0000"/>
<rect x="709" y="395" width="1" height="24" fill="#000"/>
<rect x="704" y="396" width="11" height="13" fill="#000"/>
<rect x="705" y="397" width="9" height="11" fill="#00ff00"/>
<rect x="725" y="366" width="1" height="45" fill="#000"/>
<rect x="720" y="370" width="11" height="39" fill="#000"/>
<rect x="721" y="371" width="9" height="37" fill="#ff0000"/>
<rect x="741" y="343" width="1" height="39" fill="#000"/>
<rect x="736" y="370" width="11" height="10" fill="#000"/>
<rect x="737" y="371" width="9" height="8" fill="#00ff00"/>
<rect x="757" y="367" width="1" height="39" fill="#000"/>
<rect x="752" y="379" width="11" height="23" fill="#000"/>
<rect x="753" y="380" width="9" height="21" fill="#00ff00"/>
<rect x="773" y="378" width="1" height="27" fill="#000"/>
<rect x="768" y="383" width="11" height="19" fill="#000"/>
<rect x="769" y="384" width="9" height="17" fill="#ff0000"/>
<rect x="789" y="377" width="1" height="12" fill="#000"/>
<rect x="784" y="380" width="11" height="4" fill="#000"/>
<rect x="785" y="381" width="9" height="2" fill="#ff0000"/>
<rect x="805" y="356" width="1" height="29" fill="#000"/>
<rect x="800" y="358" width="11" height="23" fill="#000"/>
<rect x="801" y="359" width="9" height="21" fill="#ff0000"/>
<rect x="821" y="320" width="1" height="42" fill="#000"/>
<rect x="816" y="330" width="11" height="29" fill="#000"/>
<rect x="817" y="331" width="9" height="27" fill="#ff0000"/>
<rect x="837" y="316" width="1" height="26" fill="#000"/>
<rect x="832" y="330" width="11" height="9" fill="#000"/>
<rect x="833" y="331" width="9" height="7" fill="#00ff00"/>
<rect x="853" y="299" width="1" height="61" fill="#000"/>
<rect x="848" y="338" width="11" height="5" fill="#000"/>
<rect x="849" y="339" width="9" height="3" fill="#00ff00"/>
<rect x="869" y="324" width="1" height="30" fill="#000"/>
<rect x="864" y="341" width="11" height="2" fill="#000"/>
<rect x="885" y="339" width="1" height="8" fill="#000"/>
<rect x="880" y="341" width="11" height="4" fill="#000"/>
<rect x="881" y="342" width="9" height="2" fill="#00ff00"/>
<rect x="901" y="335" width="1" height="15" fill="#000"/>
<rect x="896" y="343" width="11" height="2" fill="#000"/>
<rect x="917" y="334" width="1" height="31" fill="#000"/>
<rect x="912" y="343" width="11" height="2" fill="#000"/>
<rect x="933" y="317" width="1" height="32" fill="#000"/>
<rect x="928" y="325" width="11" height="20" fill="#000"/>
<rect x="929" y="326" width="9" height="18" fill="#ff0000"/>
<rect x="949" y="253" width="1" height="73" fill="#000"/>
<rect x="944" y="253" width="11" height="73" fill="#000"/>
<rect x="945" y="254" width="9" height="71" fill="#ff0000"/>
<rect x="965" y="245" width="1" height="84" fill="#000"/>
<rect x="960" y="254" width="11" height="42" fill="#000"/>
<rect x="961" y="255" width="9" height="40" fill="#00ff00"/>
<rect x="981" y="273" width="1" height="25" fill="#000"/>
<rect x="976" y="274" width="11" height="22" fill="#000"/>
<rect x="977" y="275" width="9" height="20" fill="#ff0000"/>
<rect x="997" y="271" width="1" height="49" fill="#000"/>
<rect x="992" y="273" width="11" height="41" fill="#000"/>
<rect x="993" y="274" width="9" height="39" fill="#00ff00"/>
<rect x="1013" y="292" width="1" height="34" fill="#000"/>
<rect x="1008" y="295" width="11" height="19" fill="#000"/>
<rect x="1009" y="296" width="9" height="17" fill="#ff0000"/>
<rect x="1029" y="265" width="1" height="43" fill="#000"/>
<rect x="1024" y="295" width="11" height="12" fill="#000"/>
<rect x="1025" y="296" width="9" height="10" fill="#00ff00"/>
<rect x="1045" y="151" width="1" height="161" fill="#000"/>
<rect x="1040" y="156" width="11" height="151" fill="#000"/>
<rect x="1041" y="157" width="9" height="149" fill="#ff0000"/>
<rect x="1061" y="128" width="1" height="29" fill="#000"/>
<rect x="1056" y="135" width="11" height="22" fill="#000"/>
<rect x="1057" y="136" width="9" height="20" fill="#ff0000"/>
<rect x="1077" y="130" width="1" height="13" fill="#000"/>
<rect x="1072" y="135" width="11" height="4" fill="#000"/>
<rect x="1073" y="136" width="9" height="2" fill="#00ff00"/>
<rect x="1093" y="131" width="1" height="21" fill="#000"/>
<rect x="1088" y="138" width="11" height="10" fill="#000"/>
<rect x="1089" y="139" width="9" height="8" fill="#00ff00"/>
<rect x="1109" y="115" width="1" height="39" fill="#000"/>
<rect x="1104" y="141" width="11" height="7" fill="#000"/>
<rect x="1105" y="142" width="9" height="5" fill="#ff0000"/>
<rect x="1125" y="111" width="1" height="37" fill="#000"/>
<rect x="1120" y="118" width="11" height="25" fill="#000"/>
<rect x="1121" y="119" width="9" height="23" fill="#ff0000"/>
<rect x="1141" y="104" width="1" height="71" fill="#000"/>
<rect x="1136" y="118" width="11" height="49" fill="#000"/>
<rect x="1137" y="119" width="9" height="47" fill="#00ff00"/>
<rect x="1157" y="138" width="1" height="29" fill="#000"/>
<rect x="1152" y="139" width="11" height="28" fill="#000"/>
<rect x="1153" y="140" width="9" height="26" fill="#ff0000"/>
<rect x="1173" y="141" width="1" height="7" fill="#000"/>
<rect x="1168" y="141" width="11" height="5" fill="#000"/>
<rect x="1169" y="142" width="9" height="3" fill="#00ff00"/>
<rect x="1189" y="137" width="1" height="18" fill="#000"/>
<rect x="1184" y="145" width="11" height="5" fill="#000"/>
<rect x="1185" y="146" width="9" height="3" fill="#00ff00"/>
<rect x="1205" y="143" width="1" height="23" fill="#000"/>
<rect x="1200" y="149" width="11" height="10" fill="#000"/>
<rect x="1201" y="150" width="9" height="8" fill="#00ff00"/>
<rect x="1221" y="146" width="1" height="43" fill="#000"/>
<rect x="1216" y="158" width="11" height="13" fill="#000"/>
<rect x="1217" y="159" width="9" height="11" fill="#00ff00"/>
<rect x="1237" y="159" width="1" height="24" fill="#000"/>
<rect x="1232" y="169" width="11" height="2" fill="#000"/>
<rect x="1253" y="163" width="1" height="15" fill="#000"/>
<rect x="1248" y="169" width="11" height="6" fill="#000"/>
<rect x="1249" y="170" width="9" height="4" fill="#00ff00"/>
<rect x="1269" y="163" width="1" height="13" fill="#000"/>
<rect x="1264" y="167" width="11" height="8" fill="#000"/>
<rect x="1265" y="168" width="9" height="6" fill="#ff0000"/>
<rect x="1285" y="164" width="1" height="22" fill="#000"/>
<rect x="1280" y="167" width="11" height="7" fill="#000"/>
<rect x="1281" y="168" width="9" height="5" fill="#00ff00"/>
<rect x="1301" y="137" width="1" height="47" fill="#000"/>
<rect x="1296" y="140" width="11" height="33" fill="#000"/>
<rect x="1297" y="141" width="9" height="31" fill="#ff0000"/>
<rect x="1317" y="139" width="1" height="31" fill="#000"/>
<rect x="1312" y="141" width="11" height="20" fill="#000"/>
<rect x="1313" y="142" width="9" height="18" fill="#00ff00"/>
<rect x="1333" y="151" width="1" height="59" fill="#000"/>
<rect x="1328" y="161" width="11" height="39" fill="#000"/>
<rect x="1329" y="162" width="9" height="37" fill="#00ff00"/>
<rect x="1349" y="175" width="1" height="30" fill="#000"/>
<rect x="1344" y="182" width="11" height="18" fill="#000"/>
<rect x="1345" y="183" width="9" height="16" fill="#ff0000"/>
<rect x="1365" y="169" width="1" height="15" fill="#000"/>
<rect x="1360" y="172" width="11" height="11" fill="#000"/>
<rect x="1361" y="173" width="9" height="9" fill="#ff0000"/>
<rect x="1381" y="171" width="1" height="13" fill="#000"/>
<rect x="1376" y="172" width="11" height="8" fill="#000"/>
<rect x="1377" y="173" width="9" height="6" fill="#00ff00"/>
<rect x="1397" y="172" width="1" height="20" fill="#000"/>
<rect x="1392" y="179" width="11" height="3" fill="#000"/>
<rect x="1393" y="180" width="9" height="1" fill="#00ff00"/>
<rect x="1413" y="154" width="1" height="33" fill="#000"/>
<rect x="1408" y="166" width="11" height="16" fill="#000"/>
<rect x="1409" y="167" width="9" height="14" fill="#ff0000"/>
<rect x="1429" y="114" width="1" height="75" fill="#000"/>
<rect x="1424" y="132" width="11" height="35" fill="#000"/>
<rect x="1425" y="133" width="9" height="33" fill="#ff0000"/>
<rect x="1445" y="80" width="1" height="54" fill="#000"/>
<rect x="1440" y="82" width="11" height="50" fill="#000"/>
<rect x="1441" y="83" width="9" height="48" fill="#ff0000"/>
<rect x="1461" y="78" width="1" height="9" fill="#000"/>
<rect x="1456" y="82" width="11" height="4" fill="#000"/>
<rect x="1457" y="83" width="9" height="2" fill="#00ff00"/>
</g>
<text x="20.6" y="35.5" font-size="9.6" fill="#000" stroke="#000" stroke-width="0.12" textLength="203" lengthAdjust="spacingAndGlyphs" style="white-space:pre">EURUSD-,H4  1.09869 1.09899 1.09841 1.09852</text>
<g shape-rendering="crispEdges">
<rect x="5" y="85" width="1639" height="1" fill="#000000"/>
<rect x="5" y="29" width="1639" height="2" fill="#ff0000"/>
<rect x="5" y="54" width="1639" height="2" fill="#ff0000"/>
<rect x="5" y="95" width="1639" height="2" fill="#ffa500"/>
<rect x="5" y="123" width="1639" height="2" fill="#0000ff"/>
<rect x="5" y="155" width="1639" height="2" fill="#0000ff"/>
<rect x="4" y="27" width="6" height="6" fill="#ff0000"/>
<rect x="6" y="29" width="2" height="2" fill="#ffffff"/>
<rect x="1638" y="27" width="6" height="6" fill="#ff0000"/>
<rect x="1640" y="29" width="2" height="2" fill="#ffffff"/>
<rect x="4" y="52" width="6" height="6" fill="#ff0000"/>
<rect x="6" y="54" width="2" height="2" fill="#ffffff"/>
<rect x="1638" y="52" width="6" height="6" fill="#ff0000"/>
<rect x="1640" y="54" width="2" height="2" fill="#ffffff"/>
<rect x="4" y="93" width="6" height="6" fill="#ffa500"/>
<rect x="6" y="95" width="2" height="2" fill="#ffffff"/>
<rect x="1638" y="93" width="6" height="6" fill="#ffa500"/>
<rect x="1640" y="95" width="2" height="2" fill="#ffffff"/>
<rect x="4" y="121" width="6" height="6" fill="#0000ff"/>
<rect x="6" y="123" width="2" height="2" fill="#ffffff"/>
<rect x="1638" y="121" width="6" height="6" fill="#0000ff"/>
<rect x="1640" y="123" width="2" height="2" fill="#ffffff"/>
<rect x="4" y="153" width="6" height="6" fill="#0000ff"/>
<rect x="6" y="155" width="2" height="2" fill="#ffffff"/>
<rect x="1638" y="153" width="6" height="6" fill="#0000ff"/>
<rect x="1640" y="155" width="2" height="2" fill="#ffffff"/>
</g>
<line x1="1432" y1="226" x2="1521" y2="139" stroke="#e8141e" stroke-width="3.4"/>
<path d="M1532.5 127.5 L1513.5 134 L1526 146.5 Z" fill="#e8141e"/>
<g shape-rendering="crispEdges">
<rect x="4" y="24" width="1641" height="1" fill="#000"/>
<rect x="4" y="590" width="1641" height="1" fill="#000"/>
<rect x="4" y="24" width="1" height="567" fill="#000"/>
<rect x="1644" y="24" width="1" height="567" fill="#000"/>
<rect x="4" y="592" width="1641" height="1" fill="#000"/>
<rect x="4" y="703" width="1641" height="1" fill="#000"/>
<rect x="4" y="592" width="1" height="112" fill="#000"/>
<rect x="1644" y="592" width="1" height="112" fill="#000"/>
<rect x="4" y="705" width="1641" height="1" fill="#000"/>
<rect x="4" y="816" width="1641" height="1" fill="#000"/>
<rect x="4" y="705" width="1" height="112" fill="#000"/>
<rect x="1644" y="705" width="1" height="112" fill="#000"/>
<path d="M1441.5 24 L1451.5 24 L1446.5 30.5 Z" fill="#000"/>
<path d="M8 30.5 L15.5 30.5 L11.7 35.5 Z" fill="#000"/>
</g>
<g shape-rendering="crispEdges">
<rect x="4" y="27" width="6" height="6" fill="#ff0000"/>
<rect x="6" y="29" width="2" height="2" fill="#ffffff"/>
</g>
<text x="9" y="605" font-size="9.6" fill="#000" stroke="#000" stroke-width="0.12" textLength="147.7" lengthAdjust="spacingAndGlyphs">MACD(12,26,9) 0.002321 0.001925</text>
<text x="9" y="718" font-size="9.6" fill="#000" stroke="#000" stroke-width="0.12" textLength="67.4" lengthAdjust="spacingAndGlyphs">RSI(14) 68.8144</text>
<g shape-rendering="crispEdges">
<rect x="1645" y="587" width="2" height="1" fill="#000"/>
<rect x="1645" y="554" width="2" height="1" fill="#000"/>
<rect x="1645" y="521" width="2" height="1" fill="#000"/>
<rect x="1645" y="488" width="2" height="1" fill="#000"/>
<rect x="1645" y="455" width="2" height="1" fill="#000"/>
<rect x="1645" y="422" width="2" height="1" fill="#000"/>
<rect x="1645" y="389" width="2" height="1" fill="#000"/>
<rect x="1645" y="356" width="2" height="1" fill="#000"/>
<rect x="1645" y="323" width="2" height="1" fill="#000"/>
<rect x="1645" y="290" width="2" height="1" fill="#000"/>
<rect x="1645" y="257" width="2" height="1" fill="#000"/>
<rect x="1645" y="224" width="2" height="1" fill="#000"/>
<rect x="1645" y="191" width="2" height="1" fill="#000"/>
<rect x="1645" y="158" width="2" height="1" fill="#000"/>
<rect x="1645" y="125" width="2" height="1" fill="#000"/>
<rect x="1645" y="92" width="2" height="1" fill="#000"/>
<rect x="1645" y="59" width="2" height="1" fill="#000"/>
<rect x="1645" y="26" width="2" height="1" fill="#000"/>
</g>
<text x="1650" y="590.5" font-size="9.6" fill="#000" stroke="#000" stroke-width="0.12" textLength="33" lengthAdjust="spacingAndGlyphs">1.06050</text>
<text x="1650" y="557.5" font-size="9.6" fill="#000" stroke="#000" stroke-width="0.12" textLength="33" lengthAdjust="spacingAndGlyphs">1.06295</text>
<text x="1650" y="524.5" font-size="9.6" fill="#000" stroke="#000" stroke-width="0.12" textLength="33" lengthAdjust="spacingAndGlyphs">1.06545</text>
<text x="1650" y="491.5" font-size="9.6" fill="#000" stroke="#000" stroke-width="0.12" textLength="33" lengthAdjust="spacingAndGlyphs">1.06795</text>
<text x="1650" y="458.5" font-size="9.6" fill="#000" stroke="#000" stroke-width="0.12" textLength="33" lengthAdjust="spacingAndGlyphs">1.07045</text>
<text x="1650" y="425.5" font-size="9.6" fill="#000" stroke="#000" stroke-width="0.12" textLength="33" lengthAdjust="spacingAndGlyphs">1.07295</text>
<text x="1650" y="392.5" font-size="9.6" fill="#000" stroke="#000" stroke-width="0.12" textLength="33" lengthAdjust="spacingAndGlyphs">1.07545</text>
<text x="1650" y="359.5" font-size="9.6" fill="#000" stroke="#000" stroke-width="0.12" textLength="33" lengthAdjust="spacingAndGlyphs">1.07795</text>
<text x="1650" y="326.5" font-size="9.6" fill="#000" stroke="#000" stroke-width="0.12" textLength="33" lengthAdjust="spacingAndGlyphs">1.08045</text>
<text x="1650" y="293.5" font-size="9.6" fill="#000" stroke="#000" stroke-width="0.12" textLength="33" lengthAdjust="spacingAndGlyphs">1.08295</text>
<text x="1650" y="260.5" font-size="9.6" fill="#000" stroke="#000" stroke-width="0.12" textLength="33" lengthAdjust="spacingAndGlyphs">1.08545</text>
<text x="1650" y="227.5" font-size="9.6" fill="#000" stroke="#000" stroke-width="0.12" textLength="33" lengthAdjust="spacingAndGlyphs">1.08795</text>
<text x="1650" y="194.5" font-size="9.6" fill="#000" stroke="#000" stroke-width="0.12" textLength="33" lengthAdjust="spacingAndGlyphs">1.09045</text>
<text x="1650" y="161.5" font-size="9.6" fill="#000" stroke="#000" stroke-width="0.12" textLength="33" lengthAdjust="spacingAndGlyphs">1.09295</text>
<text x="1650" y="128.5" font-size="9.6" fill="#000" stroke="#000" stroke-width="0.12" textLength="33" lengthAdjust="spacingAndGlyphs">1.09545</text>
<text x="1650" y="95.5" font-size="9.6" fill="#000" stroke="#000" stroke-width="0.12" textLength="33" lengthAdjust="spacingAndGlyphs">1.09795</text>
<text x="1650" y="62.5" font-size="9.6" fill="#000" stroke="#000" stroke-width="0.12" textLength="33" lengthAdjust="spacingAndGlyphs">1.10045</text>
<text x="1650" y="29.5" font-size="9.6" fill="#000" stroke="#000" stroke-width="0.12" textLength="33" lengthAdjust="spacingAndGlyphs">1.10295</text>
<rect x="1646" y="24" width="41" height="11" fill="#ff0000"/>
<text x="1650" y="32.6" font-size="9.6" fill="#ffffff" stroke="#ffffff" stroke-width="0.12" textLength="33" lengthAdjust="spacingAndGlyphs">1.10262</text>
<rect x="1646" y="49" width="41" height="11" fill="#ff0000"/>
<text x="1650" y="57.6" font-size="9.6" fill="#ffffff" stroke="#ffffff" stroke-width="0.12" textLength="33" lengthAdjust="spacingAndGlyphs">1.10076</text>
<rect x="1646" y="80" width="41" height="11" fill="#000000"/>
<text x="1650" y="88.6" font-size="9.6" fill="#ffffff" stroke="#ffffff" stroke-width="0.12" textLength="33" lengthAdjust="spacingAndGlyphs">1.09852</text>
<rect x="1646" y="90" width="41" height="11" fill="#ffa500"/>
<text x="1650" y="98.6" font-size="9.6" fill="#ffffff" stroke="#ffffff" stroke-width="0.12" textLength="33" lengthAdjust="spacingAndGlyphs">1.09768</text>
<rect x="1646" y="118" width="41" height="11" fill="#0000ff"/>
<text x="1650" y="126.6" font-size="9.6" fill="#ffffff" stroke="#ffffff" stroke-width="0.12" textLength="33" lengthAdjust="spacingAndGlyphs">1.09551</text>
<rect x="1646" y="150" width="41" height="11" fill="#0000ff"/>
<text x="1650" y="158.6" font-size="9.6" fill="#ffffff" stroke="#ffffff" stroke-width="0.12" textLength="33" lengthAdjust="spacingAndGlyphs">1.09314</text>
<g shape-rendering="crispEdges">
<rect x="1645" y="594" width="1" height="1" fill="#000"/>
<rect x="1645" y="670" width="2" height="1" fill="#000"/>
<rect x="1645" y="702" width="2" height="1" fill="#000"/>
<rect x="1645" y="707" width="2" height="1" fill="#000"/>
<rect x="1645" y="728" width="2" height="1" fill="#000"/>
<rect x="1645" y="761" width="2" height="1" fill="#000"/>
<rect x="1645" y="799" width="2" height="1" fill="#000"/>
<rect x="1645" y="815" width="2" height="1" fill="#000"/>
</g>
<text x="1648.5" y="603.2" font-size="9.6" fill="#000" stroke="#000" stroke-width="0.12" textLength="37.2" lengthAdjust="spacingAndGlyphs">0.005219</text>
<text x="1648.5" y="674.2" font-size="9.6" fill="#000" stroke="#000" stroke-width="0.12" textLength="16.5" lengthAdjust="spacingAndGlyphs">0.00</text>
<text x="1648.5" y="700" font-size="9.6" fill="#000" stroke="#000" stroke-width="0.12" textLength="40.5" lengthAdjust="spacingAndGlyphs">-0.002201</text>
<text x="1648.5" y="716.2" font-size="9.6" fill="#000" stroke="#000" stroke-width="0.12" textLength="15" lengthAdjust="spacingAndGlyphs">100</text>
<text x="1648.5" y="732" font-size="9.6" fill="#000" stroke="#000" stroke-width="0.12" textLength="10" lengthAdjust="spacingAndGlyphs">80</text>
<text x="1648.5" y="765" font-size="9.6" fill="#000" stroke="#000" stroke-width="0.12" textLength="10" lengthAdjust="spacingAndGlyphs">50</text>
<text x="1648.5" y="803" font-size="9.6" fill="#000" stroke="#000" stroke-width="0.12" textLength="10" lengthAdjust="spacingAndGlyphs">15</text>
<text x="1648.5" y="813.3" font-size="9.6" fill="#000" stroke="#000" stroke-width="0.12" textLength="5" lengthAdjust="spacingAndGlyphs">0</text>
<g shape-rendering="crispEdges">
<rect x="5" y="817" width="1" height="3" fill="#000"/>
<rect x="69" y="817" width="1" height="3" fill="#000"/>
<rect x="133" y="817" width="1" height="3" fill="#000"/>
<rect x="197" y="817" width="1" height="3" fill="#000"/>
<rect x="261" y="817" width="1" height="3" fill="#000"/>
<rect x="325" y="817" width="1" height="3" fill="#000"/>
<rect x="389" y="817" width="1" height="3" fill="#000"/>
<rect x="453" y="817" width="1" height="3" fill="#000"/>
<rect x="517" y="817" width="1" height="3" fill="#000"/>
<rect x="581" y="817" width="1" height="3" fill="#000"/>
<rect x="645" y="817" width="1" height="3" fill="#000"/>
<rect x="709" y="817" width="1" height="3" fill="#000"/>
<rect x="773" y="817" width="1" height="3" fill="#000"/>
<rect x="837" y="817" width="1" height="3" fill="#000"/>
<rect x="901" y="817" width="1" height="3" fill="#000"/>
<rect x="965" y="817" width="1" height="3" fill="#000"/>
<rect x="1029" y="817" width="1" height="3" fill="#000"/>
<rect x="1093" y="817" width="1" height="3" fill="#000"/>
<rect x="1157" y="817" width="1" height="3" fill="#000"/>
<rect x="1221" y="817" width="1" height="3" fill="#000"/>
<rect x="1285" y="817" width="1" height="3" fill="#000"/>
<rect x="1349" y="817" width="1" height="3" fill="#000"/>
<rect x="1413" y="817" width="1" height="3" fill="#000"/>
</g>
<text x="3.8" y="829" font-size="9.6" fill="#000" stroke="#000" stroke-width="0.12" textLength="54" lengthAdjust="spacingAndGlyphs">31 May 2023</text>
<text x="67.8" y="829" font-size="9.6" fill="#000" stroke="#000" stroke-width="0.12" textLength="47.72" lengthAdjust="spacingAndGlyphs">1 Jun 08:00</text>
<text x="131.8" y="829" font-size="9.6" fill="#000" stroke="#000" stroke-width="0.12" textLength="47.72" lengthAdjust="spacingAndGlyphs">2 Jun 00:00</text>
<text x="195.8" y="829" font-size="9.6" fill="#000" stroke="#000" stroke-width="0.12" textLength="47.72" lengthAdjust="spacingAndGlyphs">2 Jun 16:00</text>
<text x="259.8" y="829" font-size="9.6" fill="#000" stroke="#000" stroke-width="0.12" textLength="47.72" lengthAdjust="spacingAndGlyphs">5 Jun 08:00</text>
<text x="323.8" y="829" font-size="9.6" fill="#000" stroke="#000" stroke-width="0.12" textLength="47.72" lengthAdjust="spacingAndGlyphs">6 Jun 00:00</text>
<text x="387.8" y="829" font-size="9.6" fill="#000" stroke="#000" stroke-width="0.12" textLength="47.72" lengthAdjust="spacingAndGlyphs">6 Jun 16:00</text>
<text x="451.8" y="829" font-size="9.6" fill="#000" stroke="#000" stroke-width="0.12" textLength="47.72" lengthAdjust="spacingAndGlyphs">7 Jun 08:00</text>
<text x="515.8" y="829" font-size="9.6" fill="#000" stroke="#000" stroke-width="0.12" textLength="47.72" lengthAdjust="spacingAndGlyphs">8 Jun 00:00</text>
<text x="579.8" y="829" font-size="9.6" fill="#000" stroke="#000" stroke-width="0.12" textLength="47.72" lengthAdjust="spacingAndGlyphs">8 Jun 16:00</text>
<text x="643.8" y="829" font-size="9.6" fill="#000" stroke="#000" stroke-width="0.12" textLength="47.72" lengthAdjust="spacingAndGlyphs">9 Jun 08:00</text>
<text x="707.8" y="829" font-size="9.6" fill="#000" stroke="#000" stroke-width="0.12" textLength="52.8" lengthAdjust="spacingAndGlyphs">12 Jun 00:00</text>
<text x="771.8" y="829" font-size="9.6" fill="#000" stroke="#000" stroke-width="0.12" textLength="52.8" lengthAdjust="spacingAndGlyphs">12 Jun 16:00</text>
<text x="835.8" y="829" font-size="9.6" fill="#000" stroke="#000" stroke-width="0.12" textLength="52.8" lengthAdjust="spacingAndGlyphs">13 Jun 08:00</text>
<text x="899.8" y="829" font-size="9.6" fill="#000" stroke="#000" stroke-width="0.12" textLength="52.8" lengthAdjust="spacingAndGlyphs">14 Jun 00:00</text>
<text x="963.8" y="829" font-size="9.6" fill="#000" stroke="#000" stroke-width="0.12" textLength="52.8" lengthAdjust="spacingAndGlyphs">14 Jun 16:00</text>
<text x="1027.8" y="829" font-size="9.6" fill="#000" stroke="#000" stroke-width="0.12" textLength="52.8" lengthAdjust="spacingAndGlyphs">15 Jun 08:00</text>
<text x="1091.8" y="829" font-size="9.6" fill="#000" stroke="#000" stroke-width="0.12" textLength="52.8" lengthAdjust="spacingAndGlyphs">16 Jun 00:00</text>
<text x="1155.8" y="829" font-size="9.6" fill="#000" stroke="#000" stroke-width="0.12" textLength="52.8" lengthAdjust="spacingAndGlyphs">16 Jun 16:00</text>
<text x="1219.8" y="829" font-size="9.6" fill="#000" stroke="#000" stroke-width="0.12" textLength="52.8" lengthAdjust="spacingAndGlyphs">19 Jun 08:00</text>
<text x="1283.8" y="829" font-size="9.6" fill="#000" stroke="#000" stroke-width="0.12" textLength="52.8" lengthAdjust="spacingAndGlyphs">20 Jun 00:00</text>
<text x="1347.8" y="829" font-size="9.6" fill="#000" stroke="#000" stroke-width="0.12" textLength="52.8" lengthAdjust="spacingAndGlyphs">20 Jun 16:00</text>
<text x="1411.8" y="829" font-size="9.6" fill="#000" stroke="#000" stroke-width="0.12" textLength="52.8" lengthAdjust="spacingAndGlyphs">21 Jun 08:00</text>
</svg>
</body></html>
